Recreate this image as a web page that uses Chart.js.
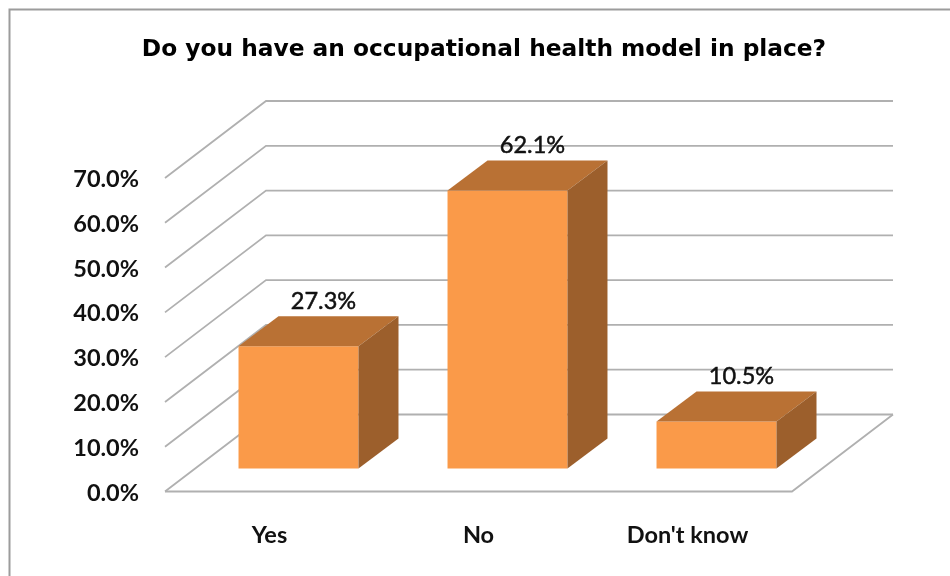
<!DOCTYPE html>
<html><head><meta charset="utf-8">
<style>html,body{margin:0;padding:0;background:#fff;overflow:hidden}#w{position:relative;width:950px;height:576px}</style>
<script src="https://cdn.jsdelivr.net/npm/chart.js@4"></script></head>
<body><div id="w"><canvas id="c"></canvas></div>
<script>
const titleText = "Do you have an occupational health model in place?";
const categories = ["Yes", "No", "Don't know"];
const values = [27.3, 62.1, 10.5];
const yTicks = [0, 10, 20, 30, 40, 50, 60, 70];

const WALL_DX = 101, WALL_DY = -77;
const BAR_SHIFT_X = 29, BAR_SHIFT_Y = -23;
const DEPTH_X = 40, DEPTH_Y = -30;

function poly(ctx, pts, fill) {
  ctx.beginPath();
  pts.forEach((p, i) => i ? ctx.lineTo(p[0], p[1]) : ctx.moveTo(p[0], p[1]));
  ctx.closePath();
  ctx.fillStyle = fill;
  ctx.fill();
}

const frame3d = {
  id: 'frame3d',
  beforeDraw(chart) {
    const c = chart.ctx;
    c.save();
    c.strokeStyle = '#9c9c9c';
    c.lineWidth = 2;
    c.beginPath();
    c.moveTo(9.5, 576);
    c.lineTo(9.5, 9.5);
    c.lineTo(950, 9.5);
    c.stroke();
    c.restore();
  },
  beforeDatasetsDraw(chart) {
    const c = chart.ctx, y = chart.scales.y, a = chart.chartArea;
    c.save();
    c.strokeStyle = '#b0b0b0';
    c.lineWidth = 1.8;
    yTicks.forEach(v => {
      const py = y.getPixelForValue(v);
      c.beginPath();
      c.moveTo(a.left, py);
      c.lineTo(a.left + WALL_DX, py + WALL_DY);
      c.lineTo(a.right + WALL_DX, py + WALL_DY);
      c.stroke();
    });
    const y0 = y.getPixelForValue(0);
    c.beginPath();
    c.moveTo(a.left, y0);
    c.lineTo(a.right, y0);
    c.lineTo(a.right + WALL_DX, y0 + WALL_DY);
    c.stroke();
    c.restore();
  },
  beforeDatasetDraw(chart) {
    chart.ctx.save();
    chart.ctx.translate(BAR_SHIFT_X, BAR_SHIFT_Y);
  },
  afterDatasetDraw(chart, args) {
    const c = chart.ctx;
    args.meta.data.forEach(b => {
      const l = b.x - b.width / 2, r = b.x + b.width / 2, t = b.y, bt = b.base;
      poly(c, [[l, t], [l + DEPTH_X, t + DEPTH_Y], [r + DEPTH_X, t + DEPTH_Y], [r, t]], '#b97134');
      poly(c, [[r, t], [r + DEPTH_X, t + DEPTH_Y], [r + DEPTH_X, bt + DEPTH_Y], [r, bt]], '#9c5f2c');
    });
    c.restore();
    c.save();
    c.font = '400 23.5px Lato';
    c.fillStyle = '#111';
    c.strokeStyle = '#111';
    c.lineWidth = 0.5;
    c.textAlign = 'center';
    c.textBaseline = 'middle';
    args.meta.data.forEach((b, i) => {
      const label = values[i].toFixed(1) + '%';
      const tx = b.x + BAR_SHIFT_X + 25, ty = b.y + BAR_SHIFT_Y + DEPTH_Y - 15;
      c.fillText(label, tx, ty);
      c.strokeText(label, tx, ty);
    });
    c.restore();
  }
};

new Chart(document.getElementById('c'), {
  type: 'bar',
  data: {
    labels: categories,
    datasets: [{
      data: values,
      backgroundColor: '#fa9a49',
      borderWidth: 0,
      barPercentage: 0.574,
      categoryPercentage: 1,
      clip: false
    }]
  },
  plugins: [frame3d],
  options: {
    responsive: true,
    maintainAspectRatio: false,
    animation: false,
    layout: { padding: { left: 18, right: 0, top: 0, bottom: 0 } },
    plugins: {
      legend: { display: false },
      tooltip: { enabled: false },
      title: {
        display: true,
        text: titleText,
        color: '#000',
        font: { family: 'DejaVu Sans', weight: 'bold', size: 23.3, lineHeight: '30px' },
        padding: { top: 35, bottom: 113 }
      }
    },
    scales: {
      x: {
        grid: { display: false, drawTicks: false },
        border: { display: false },
        ticks: { color: '#111', padding: 30, font: { family: 'Lato', weight: 'bold', size: 23.5 }, maxRotation: 0 },
        afterFit(s) { s.height = 84.5; }
      },
      y: {
        min: 0, max: 70,
        grid: { display: false, drawTicks: false },
        border: { display: false },
        ticks: {
          stepSize: 10, color: '#111', padding: 26, labelOffset: 1.5,
          font: { family: 'Lato', weight: 'bold', size: 23.5 },
          callback: v => v.toFixed(1) + '%'
        },
        afterFit(s) { s.width = 147; }
      },
      pad: {
        position: 'right', min: 0, max: 70,
        grid: { display: false, drawTicks: false },
        border: { display: false },
        ticks: { display: false },
        afterFit(s) { s.width = 158; }
      }
    }
  }
});
</script></body></html>
